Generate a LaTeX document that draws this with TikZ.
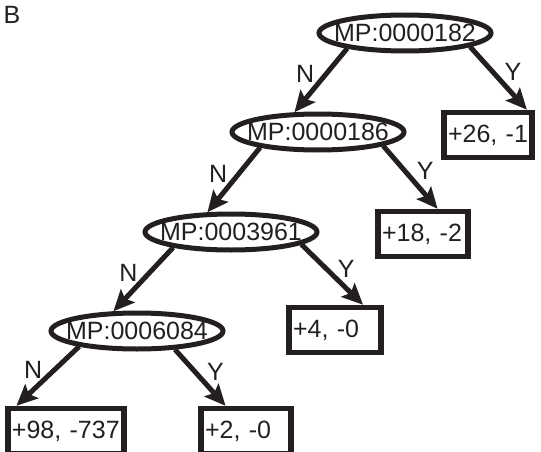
\documentclass[tikz,border=0pt]{standalone}
\usepackage{fontspec}
\setmainfont{Liberation Sans}
\usetikzlibrary{arrows.meta,
                shapes.geometric}
\definecolor{ink}{RGB}{35,31,32}

\begin{document}
\begin{tikzpicture}[x=1pt, y=-1pt,
   font=\fontsize{25}{29}\selectfont, color=ink,
split/.style = {ellipse, draw, line width=5pt,
                minimum width=172pt, minimum height=36pt,
                inner xsep=-22pt, inner ysep=0pt},
 leaf/.style = {draw, line width=5.5pt,
                minimum height=45pt, inner xsep=4pt, inner ysep=0pt,
                text width=#1, align=left},
  arr/.style = {line width=5pt,
                -{Stealth[length=21pt, width=19pt, inset=4pt]}}
                   ]
\useasboundingbox (0,0) rectangle (541,452);
\node at (12,15) (lab) {B};
% splits
\node[split] at (405,33)  (e1) {MP:0000182};
\node[split] at (318,132) (e2) {MP:0000186};
\node[split] at (231,232) (e3) {MP:0003961};
\node[split] at (137,331) (e4) {MP:0006084};
% leaves
\node[leaf=80pt]  at (488,135) (b26) {+26, -1};
\node[leaf=82pt]  at (423,234) (b18) {+18, -2};
\node[leaf=84pt]  at (335,330) (b4)  {+4, -0};
\node[leaf=108pt] at (66,431)  (b98) {+98, -737};
\node[leaf=82pt]  at (246,431) (b2)  {+2, -0};
% branches
\draw[arr] (e1.195) -- node[pos=.4, left=6pt]  {N} (e2.140);
\draw[arr] (e1.348) -- node[pos=.4, right=6pt] {Y} (b26.33);
\draw[arr] (e2.195) -- node[pos=.4, left=6pt]  {N} (e3.140);
\draw[arr] (e2.348) -- node[pos=.4, right=6pt] {Y} (b18.60);
\draw[arr] (e3.195) -- node[pos=.4, left=6pt]  {N} (e4.140);
\draw[arr] (e3.350) -- node[pos=.4, right=6pt] {Y} (b4.42);
\draw[arr] (e4.195) -- node[pos=.4, left=6pt]  {N} (b98.153);
\draw[arr] (e4.334) -- node[pos=.4, right=6pt] {Y} (b2.129);

\end{tikzpicture}
\end{document}
